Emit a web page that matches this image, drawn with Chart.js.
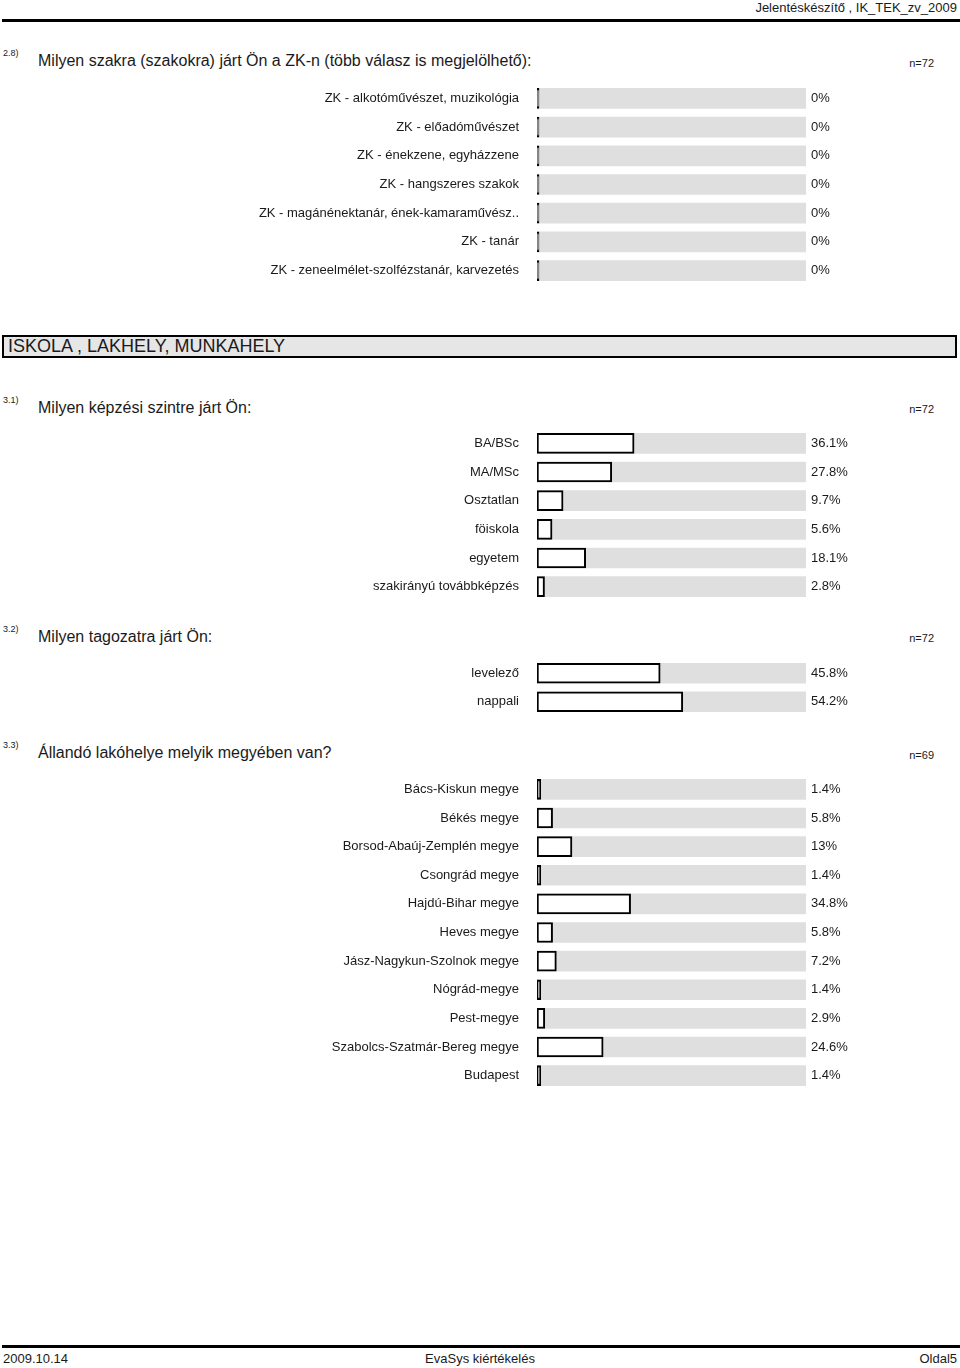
<!DOCTYPE html>
<html lang="hu">
<head>
<meta charset="UTF-8">
<title>EvaSys kiértékelés</title>
<script src="https://cdn.jsdelivr.net/npm/chart.js"></script>
<style>
    body {
        margin: 0;
        width: 960px;
        height: 1368px;
        position: relative;
        background: #fff;
        font-family: 'Liberation Sans', Arial, sans-serif;
        color: #1a1a1a;
        overflow: hidden;
    }
    .t {
        position: absolute;
        line-height: 1;
        white-space: nowrap;
        transform: translateY(-50%);
    }
    .num { font-size: 9px; left: 3px; }
    .title { font-size: 16px; left: 38px; }
    .n { font-size: 11px; right: 26px; }
    .rule {
        position: absolute;
        left: 2px;
        width: 958px;
        height: 3px;
        background: #000;
    }
    .box {
        position: absolute;
        left: 2px;
        top: 335px;
        width: 947px;
        height: 19px;
        border: 2px solid #000;
        background: #e6e6e6;
        font-size: 18px;
        line-height: 19px;
        padding-left: 4px;
    }
    canvas { position: absolute; left: 0; }
</style>
</head>
<body>
    <!-- fejléc -->
    <div class="t" style="right:3px; top:7px; font-size:13px;">Jelentéskészítő , IK_TEK_zv_2009</div>
    <div class="rule" style="top:19px;"></div>

    <!-- 2.8 -->
    <div class="t num" style="top:53px;">2.8)</div>
    <div class="t title" style="top:61px;">Milyen szakra (szakokra) járt Ön a ZK-n (több válasz is megjelölhető):</div>
    <div class="t n" style="top:63px;">n=72</div>
    <canvas id="c28" width="960" height="201" style="top:84px;"></canvas>

    <div class="box">ISKOLA , LAKHELY, MUNKAHELY</div>

    <!-- 3.1 -->
    <div class="t num" style="top:400px;">3.1)</div>
    <div class="t title" style="top:408px;">Milyen képzési szintre járt Ön:</div>
    <div class="t n" style="top:409px;">n=72</div>
    <canvas id="c31" width="960" height="172" style="top:429px;"></canvas>

    <!-- 3.2 -->
    <div class="t num" style="top:629px;">3.2)</div>
    <div class="t title" style="top:637px;">Milyen tagozatra járt Ön:</div>
    <div class="t n" style="top:638px;">n=72</div>
    <canvas id="c32" width="960" height="57" style="top:659px;"></canvas>

    <!-- 3.3 -->
    <div class="t num" style="top:745px;">3.3)</div>
    <div class="t title" style="top:753px;">Állandó lakóhelye melyik megyében van?</div>
    <div class="t n" style="top:755px;">n=69</div>
    <canvas id="c33" width="960" height="315" style="top:775px;"></canvas>

    <!-- lábléc -->
    <div class="rule" style="top:1345px;"></div>
    <div class="t" style="left:3px; top:1358px; font-size:13px;">2009.10.14</div>
    <div class="t" style="left:480px; top:1358px; font-size:13px; transform:translate(-50%,-50%);">EvaSys kiértékelés</div>
    <div class="t" style="right:3px; top:1358px; font-size:13px;">Oldal5</div>

<script>
    // Adatok
    const szakLabels = [
        'ZK - alkotóművészet, muzikológia',
        'ZK - előadóművészet',
        'ZK - énekzene, egyházzene',
        'ZK - hangszeres szakok',
        'ZK - magánénektanár, ének-kamaraművész..',
        'ZK - tanár',
        'ZK - zeneelmélet-szolfézstanár, karvezetés'
    ];
    const szakValues = [0, 0, 0, 0, 0, 0, 0];

    const szintLabels = ['BA/BSc', 'MA/MSc', 'Osztatlan', 'föiskola', 'egyetem', 'szakirányú továbbképzés'];
    const szintValues = [36.1, 27.8, 9.7, 5.6, 18.1, 2.8];

    const tagozatLabels = ['levelező', 'nappali'];
    const tagozatValues = [45.8, 54.2];

    const megyeLabels = [
        'Bács-Kiskun megye', 'Békés megye', 'Borsod-Abaúj-Zemplén megye', 'Csongrád megye',
        'Hajdú-Bihar megye', 'Heves megye', 'Jász-Nagykun-Szolnok megye', 'Nógrád-megye',
        'Pest-megye', 'Szabolcs-Szatmár-Bereg megye', 'Budapest'
    ];
    const megyeValues = [1.4, 5.8, 13, 1.4, 34.8, 5.8, 7.2, 1.4, 2.9, 24.6, 1.4];

    // kis lineHeight, hogy a címkék ne toljanak a rajzterület szélein
    const tickFont = { family: "'Liberation Sans', Arial, sans-serif", size: 13, lineHeight: 0.01 };

    function makeChart(id, labels, values) {
        const ctx = document.getElementById(id).getContext('2d');
        return new Chart(ctx, {
            type: 'bar',
            data: {
                labels: labels,
                datasets: [{
                    data: values,
                    backgroundColor: '#ffffff',
                    borderColor: '#000000',
                    borderWidth: 2,
                    borderSkipped: false,
                    minBarLength: 2,
                    barThickness: 20,
                    grouped: false,
                    order: 0
                }, {
                    data: labels.map(() => 100),
                    backgroundColor: '#dfdfdf',
                    borderWidth: 0,
                    barThickness: 20,
                    grouped: false,
                    order: 1
                }]
            },
            options: {
                indexAxis: 'y',
                responsive: false,
                animation: false,
                layout: { padding: 0 },
                plugins: { legend: { display: false }, tooltip: { enabled: false } },
                scales: {
                    x: { display: false, min: 0, max: 100 },
                    y: {
                        position: 'left',
                        grid: { display: false, drawTicks: true, tickLength: 18 },
                        border: { display: false },
                        ticks: { color: '#1a1a1a', font: tickFont, padding: 0, autoSkip: false },
                        afterFit: s => { s.width = 537; }
                    },
                    y2: {
                        type: 'category',
                        position: 'right',
                        labels: values.map(v => v + '%'),
                        grid: { display: false, drawTicks: true, tickLength: 5 },
                        border: { display: false },
                        ticks: { color: '#1a1a1a', font: tickFont, padding: 0, autoSkip: false },
                        afterFit: s => { s.width = 154; }
                    }
                }
            }
        });
    }

    makeChart('c28', szakLabels, szakValues);
    makeChart('c31', szintLabels, szintValues);
    makeChart('c32', tagozatLabels, tagozatValues);
    makeChart('c33', megyeLabels, megyeValues);
</script>
</body>
</html>
